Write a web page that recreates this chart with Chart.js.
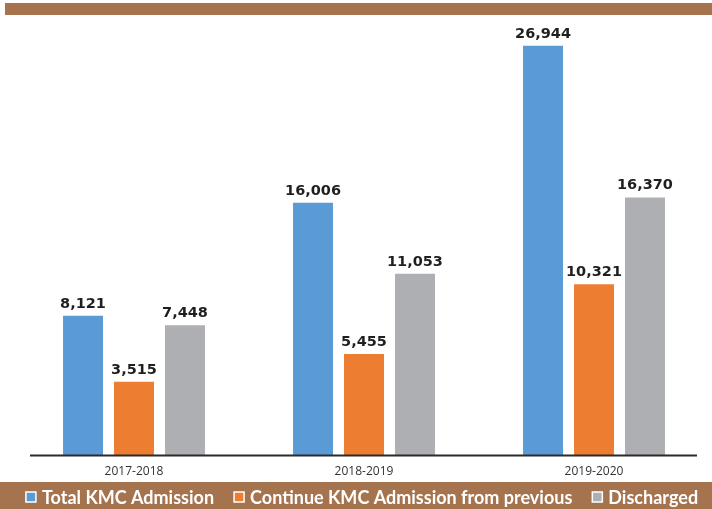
<!DOCTYPE html>
<html>
<head>
<meta charset="utf-8">
<script src="https://cdn.jsdelivr.net/npm/chart.js@4.4.1/dist/chart.umd.min.js"></script>
<style>
  html, body { margin: 0; padding: 0; background: #ffffff; }
  #wrap { width: 712px; height: 509px; position: relative; }
</style>
</head>
<body>
<div id="wrap"><canvas id="kmc" width="712" height="509"></canvas></div>
<script>
// Yearly KMC figures
const years = ['2017-2018', '2018-2019', '2019-2020'];
const totalAdmission = [8121, 16006, 26944];
const continuedAdmission = [3515, 5455, 10321];
const discharged = [7448, 11053, 16370];

const seriesNames = ['Total KMC Admission', 'Continue KMC Admission from previous', 'Discharged'];
const seriesColors = ['#5B9BD5', '#ED7D31', '#AEAFB3'];

const BROWN = '#A5744F';
const AXIS_MIN = -1635;   // bars rise from the floor line, slightly below zero
const AXIS_MAX = 27980;

const fmt = v => v.toLocaleString('en-US');

// Brown header strip, brown legend band, baseline, value labels and legend
const decor = {
  id: 'decor',
  beforeDraw(chart) {
    const { ctx, width, height } = chart;
    ctx.save();
    ctx.fillStyle = BROWN;
    ctx.fillRect(5, 3, width - 5, 12);
    ctx.fillRect(0, height - 27, width, 27);
    ctx.restore();
  },
  afterDatasetsDraw(chart) {
    const { ctx, chartArea } = chart;
    ctx.save();
    // baseline
    ctx.strokeStyle = '#2b2b2b';
    ctx.lineWidth = 2;
    ctx.beginPath();
    ctx.moveTo(chartArea.left + 11, chartArea.bottom);
    ctx.lineTo(chartArea.right - 12, chartArea.bottom);
    ctx.stroke();

    // value labels above each bar
    ctx.fillStyle = '#1f1f1f';
    ctx.font = 'bold 14.5px "DejaVu Sans"';
    ctx.textAlign = 'center';
    ctx.textBaseline = 'alphabetic';
    chart.data.datasets.forEach((ds, i) => {
      chart.getDatasetMeta(i).data.forEach((bar, j) => {
        ctx.fillText(fmt(ds.data[j]), bar.x, bar.y - 8);
      });
    });
    ctx.restore();
  },
  afterDraw(chart) {
    const { ctx, width, height } = chart;
    ctx.save();
    ctx.font = 'bold 18px "Lato"';
    ctx.textBaseline = 'middle';
    const box = 10, boxGap = 6, itemGap = 20;
    const items = chart.data.datasets.map(ds => ({
      text: ds.label, color: ds.backgroundColor, w: ctx.measureText(ds.label).width
    }));
    const total = items.reduce((s, it) => s + box + boxGap + it.w, 0) + itemGap * (items.length - 1);
    let x = (width - total) / 2 + 6;
    const cy = height - 12;
    items.forEach(it => {
      ctx.fillStyle = it.color;
      ctx.fillRect(x, cy - box / 2, box, box);
      ctx.strokeStyle = '#ffffff';
      ctx.lineWidth = 1.5;
      ctx.strokeRect(x, cy - box / 2, box, box);
      ctx.fillStyle = '#ffffff';
      ctx.fillText(it.text, x + box + boxGap, cy + 1);
      x += box + boxGap + it.w + itemGap;
    });
    ctx.restore();
  }
};

new Chart(document.getElementById('kmc'), {
  type: 'bar',
  data: {
    labels: years,
    datasets: [totalAdmission, continuedAdmission, discharged].map((vals, i) => ({
      label: seriesNames[i],
      data: vals,
      backgroundColor: seriesColors[i],
      borderWidth: 0,
      base: AXIS_MIN,
      categoryPercentage: 0.665,
      barPercentage: 0.784
    }))
  },
  options: {
    responsive: false,
    animation: false,
    devicePixelRatio: 1,
    layout: { padding: { left: 19, right: 3, top: 31, bottom: 21 } },
    plugins: {
      legend: { display: false },
      tooltip: { enabled: false },
      title: { display: false }
    },
    scales: {
      x: {
        grid: { display: false, drawTicks: false },
        border: { display: false },
        ticks: {
          color: '#333333',
          font: { family: '"Open Sans"', size: 12 },
          padding: 9
        }
      },
      y: {
        display: false,
        min: AXIS_MIN,
        max: AXIS_MAX
      }
    }
  },
  plugins: [decor]
});
</script>
</body>
</html>
